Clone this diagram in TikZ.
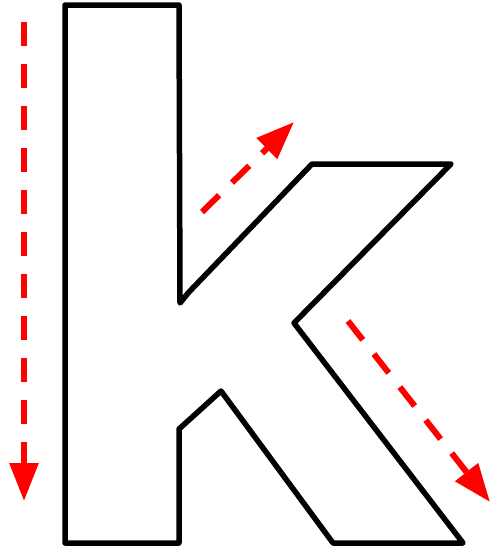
\documentclass[tikz,border=0pt]{standalone}
\usetikzlibrary{arrows.meta}

\tikzset{
    letter/.style={line width=5.5pt, line join=round},
    flow/.style={red, line width=6pt, dash pattern=on 24pt off 18pt,
                 -{Triangle[length=38pt,width=28pt]}}
}

\begin{document}
\begin{tikzpicture}[x=1pt,y=-1pt]

    % Keep the page the size of the reference
    \useasboundingbox (0,0) rectangle (494,549);

    % Corners of the letter outline
    \coordinate (TL) at (65,5);
    \coordinate (TR) at (179,5);
    \coordinate (Notch) at (180,303);
    \coordinate (Kink) at (189,292);
    \coordinate (ArmL) at (312,164);
    \coordinate (ArmR) at (451,164);
    \coordinate (Inner) at (294,323);
    \coordinate (LegR) at (463,543);
    \coordinate (LegL) at (333,543);
    \coordinate (Peak) at (221,391);
    \coordinate (Step) at (179,429);
    \coordinate (BR) at (179,543);
    \coordinate (BL) at (65,543);

    % The letter k
    \draw[letter] (TL) -- (TR) -- (Notch) -- (Kink) -- (ArmL) -- (ArmR)
                  -- (Inner) -- (LegR) -- (LegL) -- (Peak) -- (Step)
                  -- (BR) -- (BL) -- cycle;

    % Start and end points of the dashed arrows
    \coordinate (A1) at (24,22);
    \coordinate (B1) at (24,501);
    \coordinate (A2) at (202,212);
    \coordinate (B2) at (294,122);
    \coordinate (A3) at (348,321);
    \coordinate (B3) at (490,502);

    % Dashed red arrows
    \draw[flow] (A1) -- (B1);
    \draw[flow] (A2) -- (B2);
    \draw[flow] (A3) -- (B3);

\end{tikzpicture}
\end{document}
